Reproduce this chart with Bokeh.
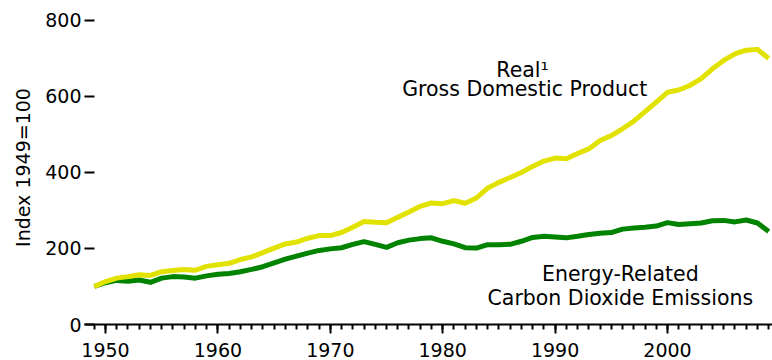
from bokeh.plotting import figure
from bokeh.models import SingleIntervalTicker, FixedTicker, Label, Range1d
from bokeh.embed import file_html
from bokeh.resources import INLINE

years = list(range(1949, 2010))
gdp = [100, 113, 122, 126, 131, 129, 139, 142, 145, 143,
       153, 157, 161, 171, 178, 189, 201, 212, 217, 227,
       234, 234, 242, 256, 271, 269, 268, 282, 296, 311,
       320, 318, 326, 319, 333, 359, 374, 387, 400, 416,
       430, 438, 436, 450, 462, 484, 497, 515, 535, 560,
       585, 611, 617, 629, 647, 673, 695, 712, 722, 724,
       700]
co2 = [100, 110, 116, 114, 117, 111, 122, 126, 125, 122,
       128, 132, 134, 139, 145, 152, 162, 172, 180, 188,
       195, 199, 202, 211, 218, 211, 203, 215, 222, 226,
       228, 219, 212, 202, 201, 210, 210, 211, 219, 229,
       232, 230, 228, 232, 237, 240, 242, 251, 254, 256,
       259, 268, 263, 265, 267, 273, 274, 270, 275, 267,
       245]
y_ticks = [0, 200, 400, 600, 800]

FONT = "DejaVu Sans"
FS = "19px"
FS_NOTE = "20.5px"

p = figure(width=772, height=360, output_backend="svg", toolbar_location=None,
           x_range=Range1d(1948.13, 2009.34), y_range=Range1d(0, 826.3),
           min_border_left=84, min_border_right=0, min_border_top=10,
           min_border_bottom=36)
p.outline_line_color = None
p.grid.visible = False
p.background_fill_color = "white"
p.border_fill_color = "white"

p.line(years, co2, line_color="#008400", line_width=5, line_join="round")
p.line(years, gdp, line_color="#e2e200", line_width=5, line_join="round")

xa = p.xaxis[0]
xa.ticker = SingleIntervalTicker(interval=10, num_minor_ticks=10)
xa.axis_line_width = 2
xa.major_tick_in = 0
xa.major_tick_out = 9
xa.major_tick_line_width = 2
xa.minor_tick_in = 0
xa.minor_tick_out = 5
xa.minor_tick_line_width = 2
xa.major_label_standoff = 9
xa.major_label_text_font = FONT
xa.major_label_text_font_size = FS
xa.major_label_text_color = "black"

ya = p.yaxis[0]
ya.ticker = FixedTicker(ticks=y_ticks, minor_ticks=[])
ya.axis_line_color = None
ya.major_tick_in = 10
ya.major_tick_out = 0
ya.major_tick_line_width = 2
ya.minor_tick_line_color = None
ya.major_label_standoff = 3
ya.major_label_text_font = FONT
ya.major_label_text_font_size = FS
ya.major_label_text_color = "black"
ya.axis_label = "Index 1949=100"
ya.axis_label_text_font = FONT
ya.axis_label_text_font_size = FS
ya.axis_label_text_font_style = "normal"
ya.axis_label_text_color = "black"
ya.axis_label_standoff = 8

labels = [
    ("Real\u00b9", 1987.1, 671.0),
    ("Gross Domestic Product", 1987.3, 621.0),
    ("Energy-Related", 1995.8, 133.4),
    ("Carbon Dioxide Emissions", 1995.8, 70.3),
]
for txt, lx, ly in labels:
    p.add_layout(Label(x=lx, y=ly, text=txt, text_align="center",
                       text_baseline="alphabetic", text_font=FONT,
                       text_font_size=FS_NOTE, text_color="black"))

open("out.html", "w").write(file_html(p, INLINE))
